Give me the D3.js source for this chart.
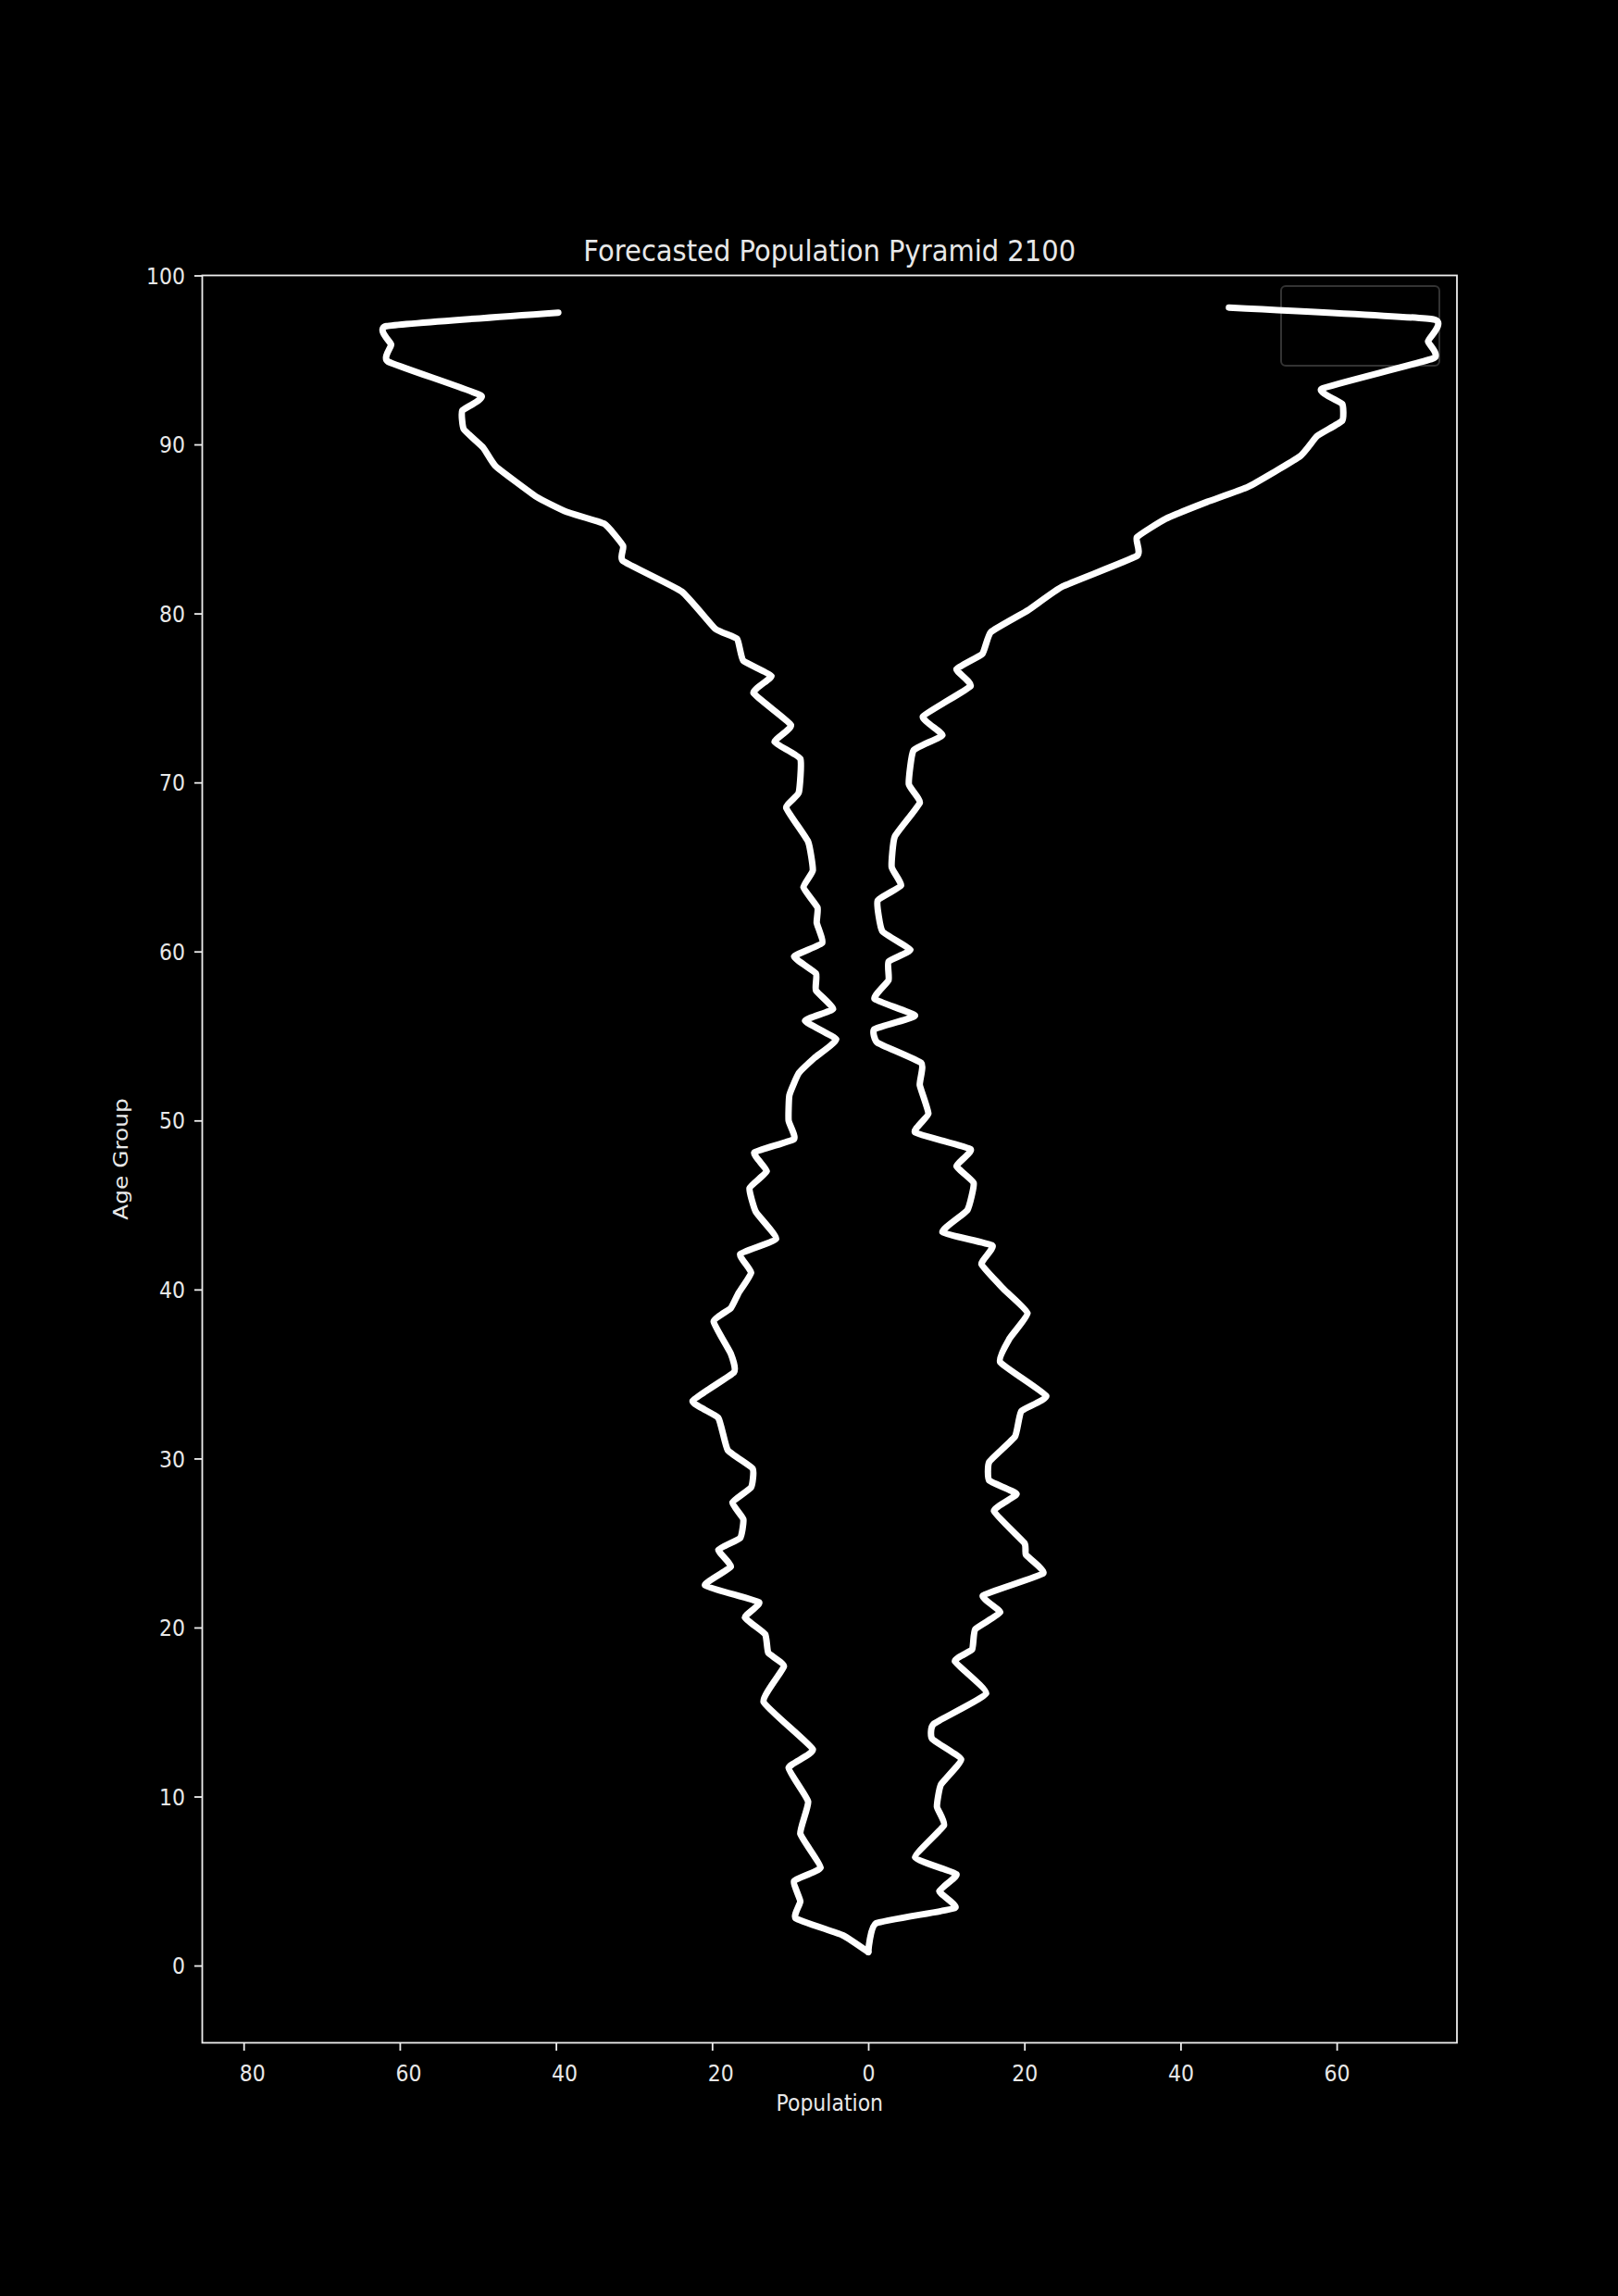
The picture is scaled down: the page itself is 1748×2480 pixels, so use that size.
<!DOCTYPE html>
<html>
<head>
<meta charset="utf-8">
<script src="https://cdn.jsdelivr.net/npm/d3@7"></script>
<style>
  html, body { margin: 0; background: #000; }
  svg { display: block; }
  text { font-family: "DejaVu Sans", sans-serif; fill: #e8e8e8; }
</style>
</head>
<body>
<div id="pyramid"></div>
<script>
// values (age, population); left side is drawn negative
const maleAge = [0.8, 1.8, 2.8, 3.8, 5.0, 5.8, 7.8, 9.7, 11.7, 12.8, 15.6, 17.7, 18.5, 19.6, 20.6, 21.5, 22.5, 23.6, 24.6, 25.3,
  26.4, 27.4, 28.3, 29.4, 30.5, 32.4, 33.4, 35.1, 36.2, 38.1, 38.9, 39.8, 41.0, 42.1, 43.0, 44.6, 46.0, 47.0, 48.1, 48.9,
  50.0, 51.5, 52.8, 53.7, 54.8, 55.9, 56.6, 57.7, 58.7, 59.7, 60.5, 61.7, 62.6, 63.8, 64.8, 66.5, 68.5, 69.4, 71.4, 72.4,
  73.4, 75.3, 76.3, 77.2, 78.5, 79.1, 81.3, 83.1, 84.0, 85.3, 86.0, 86.9, 88.7, 89.8, 90.9, 92.0, 92.9, 94.9, 95.9, 97.0, 97.8];
const malePop = [0, -3.3, -9.3, -8.7, -9.5, -6.1, -8.7, -7.7, -10.2, -7.1, -13.4, -10.8, -12.8, -13.2, -15.8, -14.0, -20.9, -17.6, -19.2, -16.4,
  -16.0, -17.4, -15.0, -14.8, -18.0, -19.2, -22.5, -17.2, -17.6, -19.8, -17.6, -16.6, -15.0, -16.4, -11.8, -14.4, -15.2, -13.0, -14.6, -9.5,
  -10.2, -10.1, -8.9, -6.9, -4.1, -8.1, -4.5, -6.7, -6.7, -9.5, -5.9, -6.6, -6.5, -8.3, -7.1, -7.7, -10.5, -8.9, -8.7, -12.0,
  -9.9, -14.7, -12.4, -16.0, -16.8, -19.6, -23.9, -31.4, -31.4, -33.8, -38.6, -42.5, -47.7, -49.3, -51.8, -52.0, -49.6, -61.5, -61.1, -61.7, -39.7];

const femaleAge = [0.8, 2.5, 3.4, 4.4, 5.4, 6.4, 8.3, 9.4, 10.7, 12.2, 13.4, 14.3, 16.1, 18.0, 18.7, 19.9, 20.9, 21.9, 23.2, 24.3,
  25.0, 26.9, 27.9, 28.7, 29.8, 31.3, 32.8, 33.7, 35.7, 37.1, 38.6, 40.0, 41.5, 42.6, 43.4, 44.7, 46.3, 47.3, 48.3, 49.3,
  50.4, 52.1, 53.4, 54.6, 55.4, 56.2, 57.2, 58.3, 59.4, 60.1, 61.2, 63.0, 63.9, 65.0, 66.8, 68.8, 69.9, 71.9, 72.8, 73.9,
  75.7, 76.7, 77.6, 78.9, 80.2, 81.6, 83.4, 84.5, 85.6, 86.6, 87.5, 89.3, 90.5, 91.4, 92.4, 93.3, 95.1, 96.1, 97.4, 98.1];
const femalePop = [0, 1.0, 11.1, 9.1, 11.3, 6.0, 9.7, 8.8, 9.3, 11.9, 8.2, 8.4, 15.1, 11.1, 13.3, 13.7, 16.9, 14.7, 22.4, 20.2,
  20.0, 16.1, 19.0, 15.5, 15.5, 18.8, 19.6, 22.8, 16.9, 18.1, 20.4, 17.4, 14.5, 15.9, 9.5, 12.7, 13.5, 11.3, 13.1, 6.0,
  7.7, 6.6, 6.8, 1.2, 0.8, 6.0, 0.8, 2.6, 2.6, 5.4, 1.8, 1.2, 4.2, 3.0, 3.4, 6.6, 5.2, 5.8, 9.5, 7.0,
  13.1, 11.3, 14.6, 15.7, 20.5, 24.9, 34.4, 34.4, 38.1, 43.4, 48.7, 55.3, 57.5, 60.7, 60.7, 58.1, 72.4, 71.7, 72.4, 46.2];

const xTicks = [-80, -60, -40, -20, 0, 20, 40, 60];
const yTicks = [0, 10, 20, 30, 40, 50, 60, 70, 80, 90, 100];

const width = 1748;
const height = 2480;
const plot = { left: 218.5, right: 1574, top: 297.5, bottom: 2206.5 };
const stretch = 1.13; // the picture's text is a little taller than wide

const svg = d3.select('#pyramid')
  .append('svg')
  .attr('width', width)
  .attr('height', height)
  .style('background', '#000');

const x = d3.scaleLinear()
  .domain([-85.3, 75.4])
  .range([plot.left, plot.right]);

const y = d3.scaleLinear()
  .domain([-4.57, 100])
  .range([plot.bottom, plot.top]);

// empty legend box, top right
svg.append('rect')
  .attr('x', 1384)
  .attr('y', 309)
  .attr('width', 171)
  .attr('height', 86)
  .attr('rx', 5)
  .attr('fill', '#000')
  .attr('stroke', '#333')
  .attr('stroke-width', 2);

const line = d3.line()
  .x(d => x(d[1]))
  .y(d => y(d[0]))
  .curve(d3.curveCardinal.tension(0.6));

[d3.zip(maleAge, malePop), d3.zip(femaleAge, femalePop)].forEach(series => {
  svg.append('path')
    .datum(series)
    .attr('d', line)
    .attr('fill', 'none')
    .attr('stroke', '#fff')
    .attr('stroke-width', 7)
    .attr('stroke-linejoin', 'round')
    .attr('stroke-linecap', 'round');
});

// axes
const xAxis = svg.append('g')
  .attr('transform', `translate(0,${plot.bottom})`)
  .call(d3.axisBottom(x).tickValues(xTicks).tickSize(8.5).tickFormat(d => Math.abs(d)));

xAxis.selectAll('text')
  .attr('y', 0)
  .attr('dy', 0)
  .attr('font-size', 22)
  .attr('transform', d => `translate(${d < 0 ? 9 : 0},41) scale(1,${stretch})`);

const yAxis = svg.append('g')
  .attr('transform', `translate(${plot.left},0)`)
  .call(d3.axisLeft(y).tickValues(yTicks).tickSize(8.5));

yAxis.selectAll('text')
  .attr('x', 0)
  .attr('dy', 0)
  .attr('font-size', 22)
  .attr('transform', `translate(-18.5,8.6) scale(1,${stretch})`);

svg.selectAll('.domain').remove();
svg.selectAll('.tick line')
  .attr('stroke', '#eee')
  .attr('stroke-width', 1.8);
svg.selectAll('.tick text')
  .attr('fill', '#e8e8e8')
  .attr('font-family', '"DejaVu Sans", sans-serif');

// frame
svg.append('rect')
  .attr('x', plot.left)
  .attr('y', plot.top)
  .attr('width', plot.right - plot.left)
  .attr('height', plot.bottom - plot.top)
  .attr('fill', 'none')
  .attr('stroke', '#eee')
  .attr('stroke-width', 1.8);

// titles
svg.append('text')
  .attr('text-anchor', 'middle')
  .attr('font-size', 29)
  .attr('transform', `translate(${(plot.left + plot.right) / 2},282) scale(1,${stretch})`)
  .text('Forecasted Population Pyramid 2100');

svg.append('text')
  .attr('text-anchor', 'middle')
  .attr('font-size', 22)
  .attr('transform', `translate(${(plot.left + plot.right) / 2},2280) scale(1,${stretch})`)
  .text('Population');

svg.append('text')
  .attr('text-anchor', 'middle')
  .attr('font-size', 22)
  .attr('transform', `translate(138,${(plot.top + plot.bottom) / 2}) scale(1,${stretch}) rotate(-90)`)
  .text('Age Group');
</script>
</body>
</html>
